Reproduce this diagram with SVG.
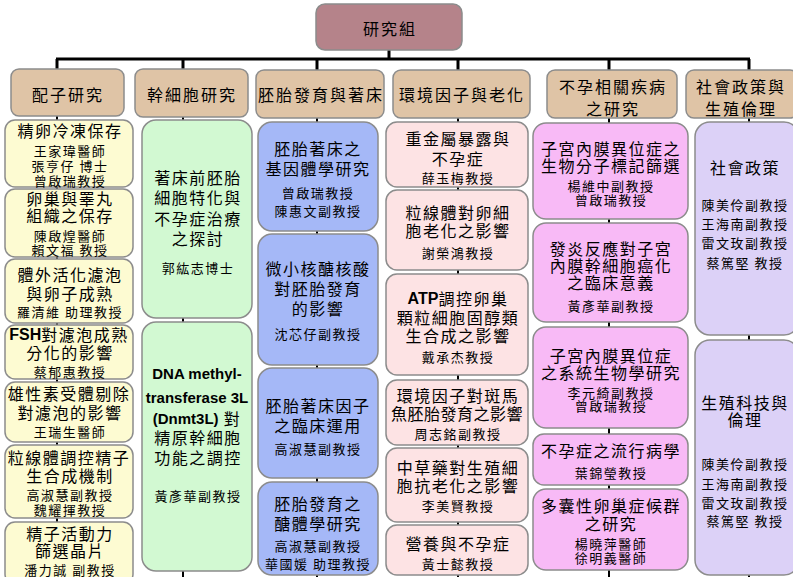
<svg xmlns="http://www.w3.org/2000/svg" width="793" height="577" viewBox="0 0 793 577">
<style>
text{font-family:"Noto Sans CJK TC","Noto Sans CJK SC",sans-serif;fill:#000;text-anchor:middle;dominant-baseline:central}
.t{font-size:16px;letter-spacing:1.5px}
.n{font-size:13px;letter-spacing:1.5px}
.h{font-size:16px;letter-spacing:2px}
.e{font-family:"Liberation Sans",Arial,sans-serif;font-weight:bold;font-size:15px;letter-spacing:0}
.box{stroke:#8c8c8c;stroke-width:1.5}
.top{fill:#b5838a}
.l1{fill:#dfc4a6}
.c1{fill:#fdfbd2}
.c2{fill:#d2f9d2}
.c3{fill:#a5b8f7}
.c4{fill:#fde3e4}
.c5{fill:#f8baf6}
.c6{fill:#dcd1f7}
.bar{stroke:#000;stroke-width:3;fill:none}
.col{stroke:#000;stroke-width:2;fill:none}
</style>
<rect width="793" height="577" fill="#fff"/>
<g id="connectors">
<line class="bar" x1="389" y1="50" x2="389" y2="59"/>
<line class="bar" x1="56" y1="59" x2="750" y2="59"/>
<line class="bar" x1="57" y1="59" x2="57" y2="70"/>
<line class="bar" x1="183" y1="59" x2="183" y2="70"/>
<line class="bar" x1="317" y1="59" x2="317" y2="70"/>
<line class="bar" x1="458" y1="59" x2="458" y2="70"/>
<line class="bar" x1="609" y1="59" x2="609" y2="70"/>
<line class="bar" x1="749" y1="59" x2="749" y2="70"/>
<line class="col" x1="57" y1="116" x2="57" y2="577"/>
<line class="col" x1="183" y1="117" x2="183" y2="577"/>
<line class="col" x1="317" y1="118" x2="317" y2="577"/>
<line class="col" x1="458" y1="118" x2="458" y2="577"/>
<line class="col" x1="609" y1="118" x2="609" y2="577"/>
<line class="col" x1="749" y1="118" x2="749" y2="577"/>
</g>
<g id="root"><rect class="box top" x="316" y="4" width="146" height="46" rx="9"/><text class="h" x="390" y="28">研究組</text></g>
<g id="cat1"><rect class="box l1" x="11" y="69" width="113" height="47" rx="8"/><text class="h" x="68" y="94">配子研究</text></g>
<g id="cat2"><rect class="box l1" x="135" y="69" width="113" height="48" rx="8"/><text class="h" x="192" y="94">幹細胞研究</text></g>
<g id="cat3"><rect class="box l1" x="256" y="70" width="128" height="48" rx="8"/><text class="h" x="321" y="94">胚胎發育與著床</text></g>
<g id="cat4"><rect class="box l1" x="393" y="70" width="137" height="48" rx="8"/><text class="h" x="462" y="94">環境因子與老化</text></g>
<g id="cat5"><rect class="box l1" x="547" y="70" width="130" height="48" rx="8"/><text class="h" x="613" y="86">不孕相關疾病</text><text class="h" x="613" y="108">之研究</text></g>
<g id="cat6"><rect class="box l1" x="686" y="70" width="112" height="48" rx="8"/><text class="h" x="741" y="86">社會政策與</text><text class="h" x="741" y="108">生殖倫理</text></g>

<g id="g1"><rect class="box c1" x="5" y="120" width="128" height="67" rx="10"/><text class="t" x="70" y="130">精卵冷凍保存</text><text class="n" x="70" y="150">王家瑋醫師</text><text class="n" x="70" y="165">張亨仔 博士</text><text class="n" x="70" y="180">曾啟瑞教授</text></g>
<g id="g2"><rect class="box c1" x="5" y="189" width="128" height="68" rx="10"/><text class="t" x="70" y="198">卵巢與睪丸</text><text class="t" x="70" y="215">組織之保存</text><text class="n" x="70" y="235">陳啟煌醫師</text><text class="n" x="70" y="249">賴文福 教授</text></g>
<g id="g3"><rect class="box c1" x="5" y="259" width="128" height="64" rx="10"/><text class="t" x="70" y="274">體外活化濾泡</text><text class="t" x="70" y="293">與卵子成熟</text><text class="n" x="70" y="311">羅清維 助理教授</text></g>
<g id="g4"><rect class="box c1" x="5" y="325" width="128" height="54" rx="10"/><text class="t" x="69" y="334"><tspan font-family="Liberation Sans,Arial,sans-serif" font-weight="bold" letter-spacing="0">FSH</tspan>對濾泡成熟</text><text class="t" x="70" y="352">分化的影響</text><text class="n" x="70" y="371">蔡郁惠教授</text></g>
<g id="g5"><rect class="box c1" x="5" y="382" width="128" height="60" rx="10"/><text class="t" x="69" y="393">雄性素受體剔除</text><text class="t" x="70" y="412">對濾泡的影響</text><text class="n" x="70" y="431">王瑞生醫師</text></g>
<g id="g6"><rect class="box c1" x="5" y="445" width="128" height="73" rx="10"/><text class="t" x="69" y="457">粒線體調控精子</text><text class="t" x="70" y="475">生合成機制</text><text class="n" x="70" y="494">高淑慧副教授</text><text class="n" x="70" y="509">魏耀揮教授</text></g>
<g id="g7"><rect class="box c1" x="5" y="522" width="128" height="62" rx="10"/><text class="t" x="70" y="533">精子活動力</text><text class="t" x="70" y="550">篩選晶片</text><text class="n" x="70" y="569">潘力誠 副教授</text></g>

<g id="s1"><rect class="box c2" x="142" y="120" width="110" height="198" rx="14"/><text class="t" x="198" y="177">著床前胚胎</text><text class="t" x="198" y="197">細胞特化與</text><text class="t" x="198" y="218">不孕症治療</text><text class="t" x="198" y="238">之探討</text><text class="n" x="198" y="267">郭紘志博士</text></g>
<g id="s2"><rect class="box c2" x="142" y="322" width="110" height="249" rx="14"/><text class="e" x="197" y="373">DNA methyl-</text><text class="e" x="197" y="397">transferase 3L</text><text class="t" x="197" y="418"><tspan class="e">(Dnmt3L)</tspan> 對</text><text class="t" x="198" y="437">精原幹細胞</text><text class="t" x="198" y="457">功能之調控</text><text class="n" x="198" y="495">黃彥華副教授</text></g>

<g id="e1"><rect class="box c3" x="258" y="122" width="120" height="109" rx="14"/><text class="t" x="318" y="148">胚胎著床之</text><text class="t" x="318" y="168">基因體學研究</text><text class="n" x="318" y="192">曾啟瑞教授</text><text class="n" x="318" y="210">陳惠文副教授</text></g>
<g id="e2"><rect class="box c3" x="258" y="234" width="120" height="131" rx="14"/><text class="t" x="318" y="268">微小核醣核酸</text><text class="t" x="318" y="288">對胚胎發育</text><text class="t" x="318" y="308">的影響</text><text class="n" x="318" y="333">沈芯仔副教授</text></g>
<g id="e3"><rect class="box c3" x="258" y="368" width="120" height="110" rx="14"/><text class="t" x="318" y="405">胚胎著床因子</text><text class="t" x="318" y="425">之臨床運用</text><text class="n" x="318" y="448">高淑慧副教授</text></g>
<g id="e4"><rect class="box c3" x="258" y="482" width="120" height="93" rx="14"/><text class="t" x="318" y="503">胚胎發育之</text><text class="t" x="318" y="523">醣體學研究</text><text class="n" x="318" y="545">高淑慧副教授</text><text class="n" x="318" y="563">華國媛 助理教授</text></g>

<g id="v1"><rect class="box c4" x="386" y="122" width="142" height="65" rx="11"/><text class="t" x="458" y="138">重金屬暴露與</text><text class="t" x="458" y="158">不孕症</text><text class="n" x="458" y="177">薛玉梅教授</text></g>
<g id="v2"><rect class="box c4" x="386" y="190" width="142" height="80" rx="11"/><text class="t" x="458" y="212">粒線體對卵細</text><text class="t" x="458" y="230">胞老化之影響</text><text class="n" x="458" y="252">謝榮鴻教授</text></g>
<g id="v3"><rect class="box c4" x="386" y="274" width="142" height="101" rx="11"/><text class="t" x="458" y="298"><tspan font-family="Liberation Sans,Arial,sans-serif" font-weight="bold" letter-spacing="0">ATP</tspan>調控卵巢</text><text class="t" x="458" y="317">顆粒細胞固醇類</text><text class="t" x="458" y="335">生合成之影響</text><text class="n" x="458" y="356">戴承杰教授</text></g>
<g id="v4"><rect class="box c4" x="386" y="380" width="142" height="65" rx="11"/><text class="t" x="458" y="395">環境因子對斑馬</text><text class="t" x="457" y="413" style="letter-spacing:0.5px">魚胚胎發育之影響</text><text class="n" x="458" y="433">周志銘副教授</text></g>
<g id="v5"><rect class="box c4" x="386" y="448" width="142" height="74" rx="11"/><text class="t" x="458" y="467">中草藥對生殖細</text><text class="t" x="458" y="485">胞抗老化之影響</text><text class="n" x="458" y="505">李美賢教授</text></g>
<g id="v6"><rect class="box c4" x="386" y="525" width="142" height="50" rx="11"/><text class="t" x="458" y="543">營養與不孕症</text><text class="n" x="458" y="563">黃士懿教授</text></g>

<g id="d1"><rect class="box c5" x="533" y="123" width="155" height="96" rx="13"/><text class="t" x="611" y="148">子宮內膜異位症之</text><text class="t" x="611" y="165">生物分子標記篩選</text><text class="n" x="611" y="185">楊維中副教授</text><text class="n" x="611" y="199">曾啟瑞教授</text></g>
<g id="d2"><rect class="box c5" x="533" y="223" width="155" height="99" rx="13"/><text class="t" x="611" y="248">發炎反應對子宮</text><text class="t" x="611" y="265">內膜幹細胞癌化</text><text class="t" x="611" y="282">之臨床意義</text><text class="n" x="611" y="305">黃彥華副教授</text></g>
<g id="d3"><rect class="box c5" x="533" y="327" width="155" height="101" rx="13"/><text class="t" x="611" y="355">子宮內膜異位症</text><text class="t" x="611" y="372">之系統生物學研究</text><text class="n" x="611" y="392">李元綺副教授</text><text class="n" x="611" y="405">曾啟瑞教授</text></g>
<g id="d4"><rect class="box c5" x="533" y="434" width="155" height="51" rx="11"/><text class="t" x="611" y="450">不孕症之流行病學</text><text class="n" x="611" y="472">葉錦瑩教授</text></g>
<g id="d5"><rect class="box c5" x="533" y="489" width="155" height="81" rx="13"/><text class="t" x="611" y="505">多囊性卵巢症候群</text><text class="t" x="611" y="523">之研究</text><text class="n" x="611" y="543">楊曉萍醫師</text><text class="n" x="611" y="557">徐明義醫師</text></g>

<g id="p1"><rect class="box c6" x="695" y="122" width="104" height="213" rx="15"/><text class="t" x="745" y="167">社會政策</text><text class="n" x="745" y="204">陳美伶副教授</text><text class="n" x="745" y="223">王海南副教授</text><text class="n" x="745" y="242">雷文玫副教授</text><text class="n" x="745" y="262">蔡篤堅 教授</text></g>
<g id="p2"><rect class="box c6" x="695" y="340" width="104" height="235" rx="15"/><text class="t" x="745" y="402">生殖科技與</text><text class="t" x="745" y="419">倫理</text><text class="n" x="745" y="463">陳美伶副教授</text><text class="n" x="745" y="483">王海南副教授</text><text class="n" x="745" y="502">雷文玫副教授</text><text class="n" x="745" y="520">蔡篤堅 教授</text></g>
</svg>
